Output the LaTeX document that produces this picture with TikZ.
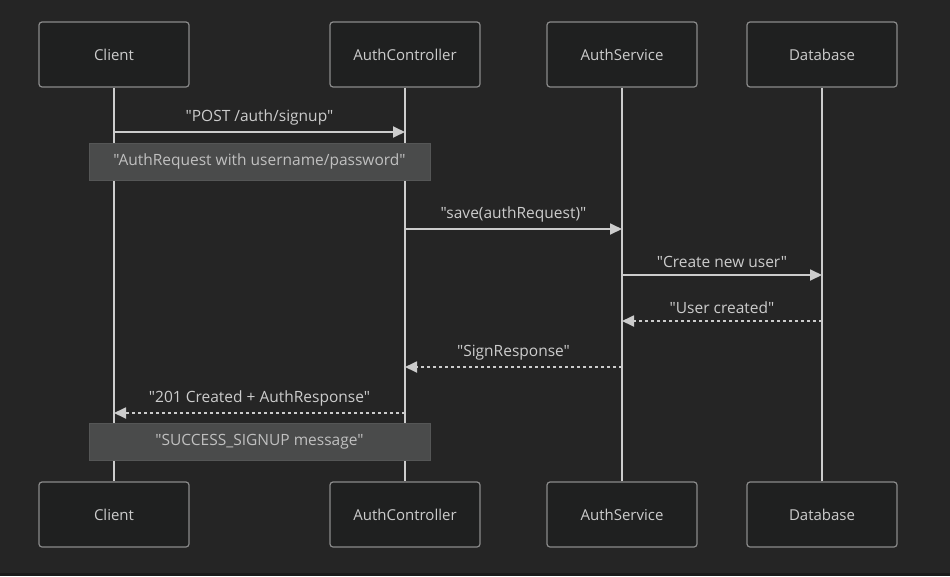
\documentclass[tikz,border=0pt]{standalone}
\usepackage{fontspec}
\setmainfont{Open Sans}[Ligatures=TeXOff]
\usetikzlibrary{arrows.meta}
\newcommand{\dq}{\char34\relax}
\definecolor{bgc}{HTML}{252525}
\definecolor{boxfill}{HTML}{1F2020}
\definecolor{boxline}{HTML}{8A8A8A}
\definecolor{txt}{HTML}{CCCCCC}
\definecolor{notefill}{HTML}{4A4B4B}
\definecolor{noteline}{HTML}{555656}
\definecolor{notetxt}{HTML}{C0C0C0}
\definecolor{strip}{HTML}{1A1A1A}
\tikzset{
  actor/.style={draw=boxline, line width=1.2pt, fill=boxfill, rounded corners=3pt,
    minimum width=150pt, minimum height=65pt, inner sep=0pt, text=txt,
    font=\fontsize{15}{18}\selectfont},
  lifeline/.style={draw=txt, line width=1.5pt},
  msg/.style={draw=txt, line width=1.8pt, -{Triangle[length=12pt,width=11pt]}},
  reply/.style={msg, dash pattern=on 3pt off 3pt},
  lbl/.style={text=txt, font=\fontsize{15.5}{18}\selectfont, inner sep=0pt},
  notebox/.style={draw=noteline, line width=1pt, fill=notefill, minimum width=341pt,
    minimum height=37pt, inner sep=0pt, text=notetxt, font=\fontsize{15.5}{18}\selectfont}
}
\begin{document}
\begin{tikzpicture}[x=1pt,y=-1pt]
\fill[bgc] (0,0) rectangle (950,576);
\useasboundingbox (0,0) rectangle (950,576);
\fill[strip] (0,573) rectangle (950,576);
% actors
\node[actor] (c1) at (114,54.5) {Client};
\node[actor] (a1) at (405,54.5) {AuthController};
\node[actor] (s1) at (622,54.5) {AuthService};
\node[actor] (d1) at (822,54.5) {Database};
\node[actor] (c2) at (114,514.5) {Client};
\node[actor] (a2) at (405,514.5) {AuthController};
\node[actor] (s2) at (622,514.5) {AuthService};
\node[actor] (d2) at (822,514.5) {Database};
% lifelines
\foreach \n in {c,a,s,d}{
  \draw[lifeline] (\n1.south) -- (\n2.north);
}
% message points on lifelines
\foreach \n in {c,a,s,d}{
  \foreach \k/\y in {1/132,2/229,3/275,4/321,5/367,6/413}{
    \coordinate (\n m\k) at (\n1.south |- 0,\y);
  }
}
% messages
\draw[msg] (cm1) -- node[lbl, above=6pt] (l1) {\dq POST /auth/signup\dq} (am1);
\draw[msg] (am2) -- node[lbl, above=6pt] (l2) {\dq save(authRequest)\dq} (sm2);
\draw[msg] (sm3) -- node[lbl, above=6pt] (l3) {\dq Create new user\dq} (dm3);
\draw[reply] (dm4) -- node[lbl, above=6pt] (l4) {\dq User created\dq} (sm4);
\draw[reply] (sm5) -- node[lbl, above=6pt] (l5) {\dq SignResponse\dq} (am5);
\draw[reply] (am6) -- node[lbl, above=6pt] (l6) {\dq 201 Created + AuthResponse\dq} (cm6);
% notes
\node[notebox] (n1) at (259.5,161.5) {\dq AuthRequest with username/password\dq};
\node[notebox] (n2) at (259.5,442) {\dq SUCCESS\_SIGNUP message\dq};
\end{tikzpicture}
\end{document}
